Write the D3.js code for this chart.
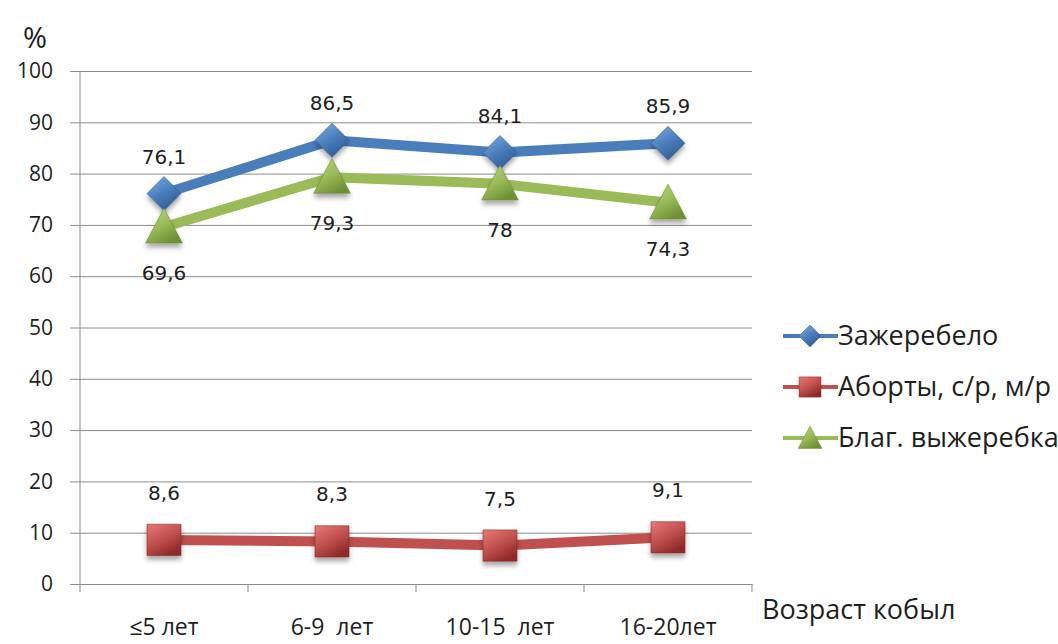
<!DOCTYPE html>
<html>
<head>
<meta charset="utf-8">
<script src="https://cdn.jsdelivr.net/npm/d3@7"></script>
<style>
  body { margin: 0; background: #fff; }
  text { font-family: "Open Sans", "DejaVu Sans", sans-serif; fill: #1e1e1e; }
  text.lbl { font-family: "DejaVu Sans", sans-serif; }
</style>
</head>
<body>
<div id="chart"></div>
<script>
// data
const ages = ["≤5 лет", "6-9  лет", "10-15  лет", "16-20лет"];
const zherebelo = [76.1, 86.5, 84.1, 85.9];
const aborty = [8.6, 8.3, 7.5, 9.1];
const vyzherebka = [69.6, 79.3, 78, 74.3];
const yTicks = [0, 10, 20, 30, 40, 50, 60, 70, 80, 90, 100];

const series = [
    {name: "Зажеребело", values: zherebelo, color: "#4a7ebb", light: "#7fb0ea", dark: "#2f5d96", shape: "diamond", dy: -30},
    {name: "Аборты, с/р, м/р", values: aborty, color: "#c0504d", light: "#e87a76", dark: "#8f2a28", shape: "square", dy: -40},
    {name: "Благ. выжеребка", values: vyzherebka, color: "#9bbb59", light: "#b9d67c", dark: "#6f8f35", shape: "triangle", dy: 53}
];

let svg = d3.select("#chart").append("svg")
    .attr("width", 1058)
    .attr("height", 644);

const defs = svg.append("defs");
series.forEach((s, i) => {
    let g = defs.append("linearGradient").attr("id", "grad" + i)
        .attr("x1", "0").attr("y1", "0").attr("x2", "0.6").attr("y2", "1");
    g.append("stop").attr("offset", "0%").attr("stop-color", s.light);
    g.append("stop").attr("offset", "55%").attr("stop-color", s.color);
    g.append("stop").attr("offset", "100%").attr("stop-color", s.dark);
});
let f = defs.append("filter").attr("id", "shadow")
    .attr("x", "-30%").attr("y", "-30%").attr("width", "160%").attr("height", "170%");
f.append("feDropShadow").attr("dx", 0).attr("dy", 4).attr("stdDeviation", 2.5)
    .attr("flood-color", "#000").attr("flood-opacity", 0.35);

const plotLeft = 80, plotRight = 752, plotTop = 71, plotBottom = 584;

let x = d3.scaleBand().domain(ages).range([plotLeft, plotRight]).padding(0);
let y = d3.scaleLinear().domain([0, 100]).range([plotBottom, plotTop]);

//grid lines + y axis labels
let yAxis = svg.append("g")
    .attr("transform", `translate(${plotLeft},0)`)
    .call(d3.axisLeft(y).tickValues(yTicks).tickSize(-(plotRight - plotLeft)).tickPadding(27).tickFormat(d3.format("d")));
yAxis.select(".domain").remove();
yAxis.selectAll(".tick line").attr("stroke", "#8c8c8c").attr("x1", -10);
yAxis.selectAll(".tick text").style("font-size", "21px").attr("fill", "#1e1e1e");

// vertical axis line
svg.append("line")
    .attr("x1", plotLeft).attr("x2", plotLeft).attr("y1", plotTop).attr("y2", plotBottom + 8)
    .attr("stroke", "#8c8c8c");

//x axis ticks
let xAxis = svg.append("g")
    .attr("transform", `translate(0,${plotBottom})`)
    .call(d3.axisBottom(x).tickSize(0).tickPadding(35));
xAxis.select(".domain").attr("stroke", "#8c8c8c");
xAxis.selectAll(".tick text").style("font-size", "23px").attr("fill", "#1e1e1e").style("white-space", "pre");
const bounds = ages.map(a => x(a) + x.bandwidth());
svg.selectAll("line.xtick")
    .data(bounds)
    .enter()
    .append("line")
    .attr("class", "xtick")
    .attr("x1", d => d).attr("x2", d => d)
    .attr("y1", plotBottom).attr("y2", plotBottom + 8)
    .attr("stroke", "#8c8c8c");

//axis titles
svg.append("text").attr("x", 23).attr("y", 48).text("%").style("font-size", "29px");
svg.append("text").attr("x", 762).attr("y", 619).text("Возраст кобыл").style("font-size", "27px");

function markerPath(shape, r) {
    if (shape === "diamond") return `M0,${-r}L${r},0L0,${r}L${-r},0Z`;
    if (shape === "square") return `M${-r},${-r * 0.92}H${r}V${r * 0.92}H${-r}Z`;
    return `M0,${-r * 1.1}L${r * 1.08},${r * 0.95}L${-r * 1.08},${r * 0.95}Z`;
}

let line = d3.line()
    .x((d, i) => x(ages[i]) + x.bandwidth() / 2)
    .y(d => y(d));

series.forEach((s, si) => {
    let g = svg.append("g");
    g.append("path")
        .datum(s.values)
        .attr("d", line)
        .attr("fill", "none")
        .attr("stroke", s.color)
        .attr("stroke-width", 10)
        .attr("stroke-linejoin", "round");

    g.selectAll("path.mk")
        .data(s.values)
        .enter()
        .append("path")
        .attr("class", "mk")
        .attr("d", markerPath(s.shape, 17))
        .attr("transform", (d, i) => `translate(${x(ages[i]) + x.bandwidth() / 2},${y(d)})`)
        .attr("fill", `url(#grad${si})`)
        .attr("stroke", s.dark)
        .attr("stroke-width", 0.6)
        .attr("filter", "url(#shadow)");

    g.selectAll("text.lbl")
        .data(s.values)
        .enter()
        .append("text")
        .attr("class", "lbl")
        .attr("x", (d, i) => x(ages[i]) + x.bandwidth() / 2)
        .attr("y", d => y(d) + s.dy)
        .attr("text-anchor", "middle")
        .style("font-size", "20px")
        .text(d => String(d).replace(".", ","));
});

//legend
let legend = svg.selectAll("g.legend")
    .data(series)
    .enter()
    .append("g")
    .attr("class", "legend")
    .attr("transform", (d, i) => `translate(783,${336 + i * 51})`);
legend.append("line")
    .attr("x1", 0).attr("x2", 55)
    .attr("stroke", d => d.color).attr("stroke-width", 4);
legend.append("path")
    .attr("d", d => markerPath(d.shape, 11))
    .attr("transform", "translate(27,0)")
    .attr("fill", (d, i) => `url(#grad${i})`)
    .attr("stroke", d => d.dark)
    .attr("stroke-width", 0.5);
legend.append("text")
    .attr("x", 55).attr("y", 9)
    .style("font-size", "27px")
    .text(d => d.name);
</script>
</body>
</html>
